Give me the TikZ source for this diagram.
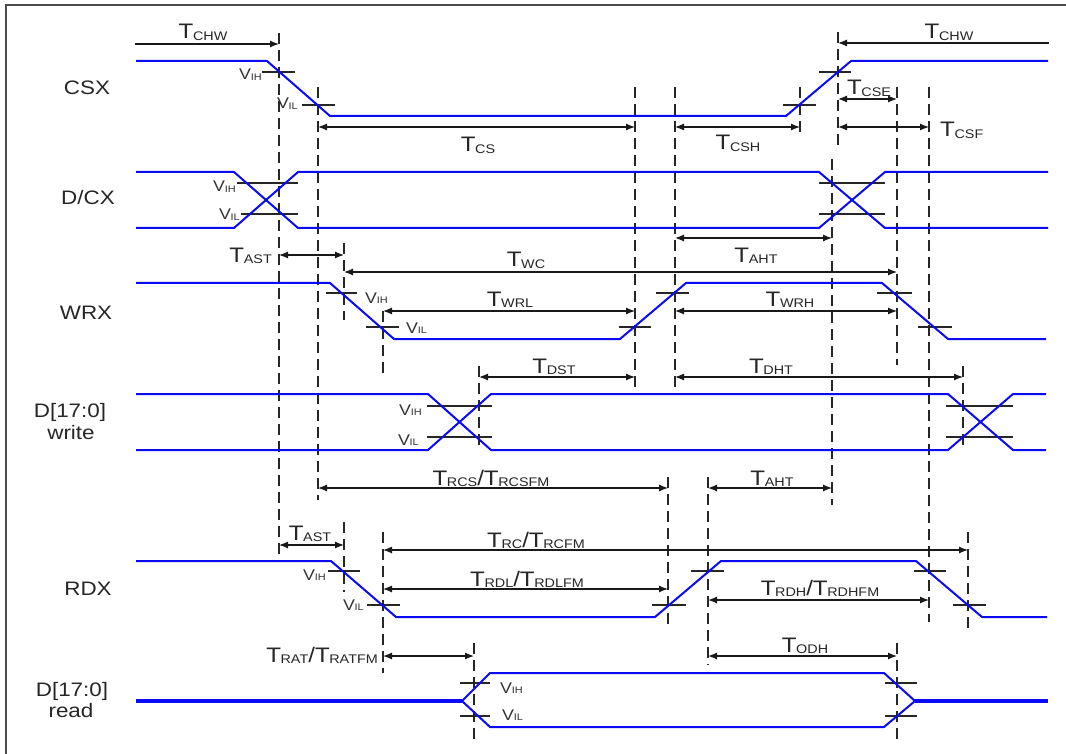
\documentclass[tikz,border=0pt]{standalone}
\usepackage{fontspec}
\setmainfont{Liberation Sans}[FakeStretch=1.15]
\usetikzlibrary{arrows.meta}
\newcommand\Tl[1]{T\kern-0.4pt\raisebox{-1.2pt}{\fontsize{12.5}{12.5}\selectfont #1}}
\newcommand\Vl[1]{V\kern-0.2pt\raisebox{-0.8pt}{\fontsize{9.5}{9.5}\selectfont #1}}
\tikzset{
  sig/.style={color={rgb,255:red,10;green,10;blue,245}, line width=2pt, line join=round},
  sigthick/.style={sig, line width=3.2pt},
  dsh/.style={line width=1.3pt, dash pattern=on 11pt off 6pt, black!85},
  tck/.style={line width=1.3pt, black!85},
  dimln/.style={line width=1.2pt, black!90},
  tlab/.style={font=\fontsize{21}{21}\selectfont, inner sep=0pt, text=black!85},
  vlab/.style={font=\fontsize{15.5}{15.5}\selectfont, inner sep=0pt, text=black!80},
  slab/.style={font=\fontsize{19.5}{19.5}\selectfont, inner sep=0pt, text=black!85},
}
\begin{document}
\begin{tikzpicture}[x=1pt,y=-1pt,>={Latex[length=9pt,width=7pt]}]
\useasboundingbox (0,0) rectangle (1066,754);
\fill[white] (0,0) rectangle (1066,754);
% frame
\draw[line width=2pt, black!70] (6,756) -- (6,5) -- (1068,5);

% signal names
\node[slab,anchor=base] (nCSX) at (87,95) {CSX};
\node[slab,anchor=base] (nDCX) at (88,205) {D/CX};
\node[slab,anchor=base] (nWRX) at (86,319) {WRX};
\node[slab,anchor=base] (nDW1) at (70,417) {D[17:0]};
\node[slab,anchor=base] (nDW2) at (71,439) {write};
\node[slab,anchor=base] (nRDX) at (88,595) {RDX};
\node[slab,anchor=base] (nDR1) at (72,696) {D[17:0]};
\node[slab,anchor=base] (nDR2) at (71,717) {read};

% dashed reference lines
\foreach \x/\a/\b in {279/33/561, 318/87/500, 344/243/320, 344/522/592,
  383/311/377, 383/532/673, 479/366/451, 474/643/743, 635/87/394,
  675/87/394, 668/477/627, 708/477/665, 800/87/138, 832/159/505,
  838/32/145, 897/87/365, 929/87/622, 963/366/451, 968/532/633, 897/643/743}
  \draw[dsh] (\x,\a) -- (\x,\b);

% dimension arrows
\draw[dimln,->] (135,44) -- (279,44);
\draw[dimln,->] (1049,43) -- (838,43);
\foreach \y/\a/\b in {127/318/635, 127/675/800, 99/838/897, 127/838/929,
  238/675/832, 255/279/344, 272/344/897, 311/383/635, 311/675/897,
  377/479/635, 377/675/963, 488/318/668, 488/708/832, 545/279/344,
  550/383/968, 589/383/668, 600/708/929, 656/383/474, 656/708/897}
  \draw[dimln,<->] (\a,\y) -- (\b,\y);

% threshold ticks
\foreach \y/\a/\b in {72/262/295, 105/302/335, 105/783/816, 72/819/851,
  183/237/298, 214/241/298, 183/819/885, 214/819/885,
  293/326/357, 327/366/399, 327/619/651, 293/656/689, 293/877/912, 327/918/952,
  406/427/492, 437/427/492, 406/946/1013, 437/946/1013,
  571/328/360, 605/367/400, 605/652/686, 571/691/724, 571/914/946, 605/953/986,
  683/460/490, 716/460/490, 683/885/917, 716/885/917}
  \draw[tck] (\a,\y) -- (\b,\y);

% waveforms
\draw[sig] (136,61) -- (267,61) -- (330,116) -- (786,116) -- (851,61) -- (1048,61);
\draw[sig] (136,172) -- (234,172) -- (298,228) -- (819,228) -- (885,172) -- (1048,172);
\draw[sig] (136,228) -- (234,228) -- (298,172) -- (819,172) -- (885,228) -- (1048,228);
\draw[sig] (136,283) -- (330,283) -- (394,339) -- (620,339) -- (686,283) -- (882,283) -- (948,339) -- (1046,339);
\draw[sig] (136,394) -- (428,394) -- (491,450) -- (948,450) -- (1013,394) -- (1046,394);
\draw[sig] (136,450) -- (428,450) -- (491,394) -- (948,394) -- (1013,450) -- (1046,450);
\draw[sig] (136,561) -- (331,561) -- (396,617) -- (655,617) -- (721,561) -- (916,561) -- (982,617) -- (1047,617);
\draw[sigthick] (136,701) -- (462,701);
\draw[sig] (462,701) -- (490,673) -- (884,673) -- (915,701);
\draw[sig] (462,701) -- (490,727) -- (884,727) -- (915,701);
\draw[sigthick] (915,701) -- (1048,701);

% V labels
\node[vlab,anchor=base east] (v1) at (262,80) {\Vl{IH}};
\node[vlab,anchor=base east] (v2) at (298,109) {\Vl{IL}};
\node[vlab,anchor=base east] (v3) at (236,192) {\Vl{IH}};
\node[vlab,anchor=base east] (v4) at (240,220) {\Vl{IL}};
\node[vlab,anchor=base west] (v5) at (365,303) {\Vl{IH}};
\node[vlab,anchor=base west] (v6) at (406,333) {\Vl{IL}};
\node[vlab,anchor=base east] (v7) at (422,415) {\Vl{IH}};
\node[vlab,anchor=base east] (v8) at (419,445) {\Vl{IL}};
\node[vlab,anchor=base east] (v9) at (326,580) {\Vl{IH}};
\node[vlab,anchor=base east] (v10) at (364,610) {\Vl{IL}};
\node[vlab,anchor=base west] (v11) at (500,693) {\Vl{IH}};
\node[vlab,anchor=base west] (v12) at (502,720) {\Vl{IL}};

% timing labels
\node[tlab,anchor=base] (tchw1) at (203,39) {\Tl{CHW}};
\node[tlab,anchor=base] (tchw2) at (949,39) {\Tl{CHW}};
\node[tlab,anchor=base] (tcs) at (478,152) {\Tl{CS}};
\node[tlab,anchor=base] (tcsh) at (738,150) {\Tl{CSH}};
\node[tlab,anchor=base] (tcse) at (869,95) {\Tl{CSE}};
\node[tlab,anchor=base west] (tcsf) at (940,137) {\Tl{CSF}};
\node[tlab,anchor=base] (taht1) at (756,262) {\Tl{AHT}};
\node[tlab,anchor=base east] (tast1) at (272,262) {\Tl{AST}};
\node[tlab,anchor=base] (twc) at (526,267) {\Tl{WC}};
\node[tlab,anchor=base] (twrl) at (510,306) {\Tl{WRL}};
\node[tlab,anchor=base] (twrh) at (790,306) {\Tl{WRH}};
\node[tlab,anchor=base] (tdst) at (554,373) {\Tl{DST}};
\node[tlab,anchor=base] (tdht) at (771,373) {\Tl{DHT}};
\node[tlab,anchor=base] (trcs) at (491,485) {\Tl{RCS}/\Tl{RCSFM}};
\node[tlab,anchor=base] (taht2) at (772,485) {\Tl{AHT}};
\node[tlab,anchor=base] (tast2) at (310,540) {\Tl{AST}};
\node[tlab,anchor=base] (trc) at (536,547) {\Tl{RC}/\Tl{RCFM}};
\node[tlab,anchor=base] (trdl) at (527,586) {\Tl{RDL}/\Tl{RDLFM}};
\node[tlab,anchor=base] (trdh) at (820,595) {\Tl{RDH}/\Tl{RDHFM}};
\node[tlab,anchor=base] (todh) at (805,652) {\Tl{ODH}};
\node[tlab,anchor=base east] (trat) at (378,662) {\Tl{RAT}/\Tl{RATFM}};
\end{tikzpicture}
\end{document}
